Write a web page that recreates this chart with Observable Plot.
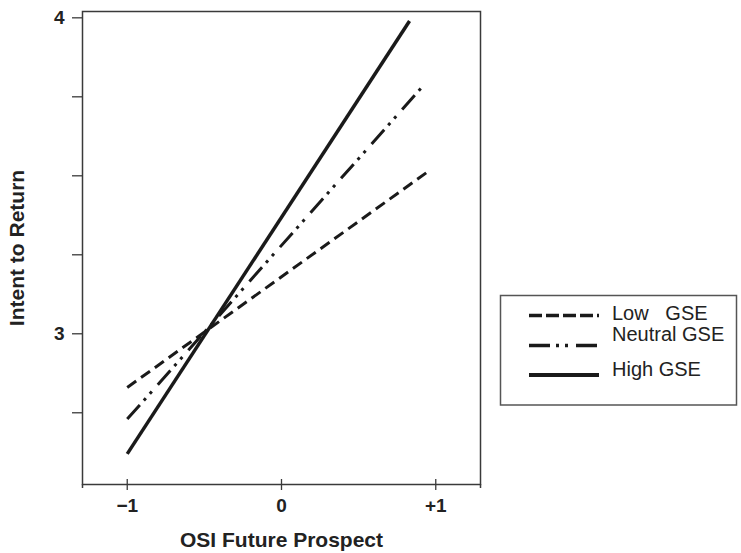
<!DOCTYPE html>
<html><head><meta charset="utf-8">
<script src="https://cdn.jsdelivr.net/npm/d3@7"></script>
<script src="https://cdn.jsdelivr.net/npm/@observablehq/plot@0.6"></script>
<style>
body{margin:0;background:#fff;}
#chart{position:relative;width:741px;height:553px;}
#legend{position:absolute;left:0;top:0;pointer-events:none;}
</style></head><body>
<div id="chart"></div>
<script>
// Series (three simple slopes)
const groups = ["Low   GSE", "Neutral GSE", "High GSE"];
const xStart = [-1, -1, -1];
const xEnd = [0.94, 0.91, 0.83];
const yStart = [2.83, 2.73, 2.62];
const yEnd = [3.51, 3.78, 3.99];
// Axes
const xTicks = [-1, 0, 1];
const xTickLabels = ["\u22121", "0", "+1"];
const yTicks = [2.75, 3, 3.25, 3.5, 3.75, 4];
const yTickLabels = ["", "3", "", "", "", "4"];
const xTitle = "OSI Future Prospect";
const yTitle = "Intent to Return";
const xDomain = [-1.29, 1.29];
const yDomain = [2.523, 4.02];

const dashes = ["11,6", "19,6,3,6,3,9", null];
const widths = [3, 3, 3.5];
const ink = "#1a1a1a";
const axisInk = "#3a3a3a";

const rows = groups.flatMap((g, i) => [
  {g, x: xStart[i], y: yStart[i]},
  {g, x: xEnd[i], y: yEnd[i]}
]);

const lineMarks = groups.map((g, i) =>
  Plot.line(rows.filter(r => r.g === g), {
    x: "x", y: "y", stroke: ink, strokeWidth: widths[i],
    strokeDasharray: dashes[i] || undefined, strokeLinecap: "butt"
  })
);

const plot = Plot.plot({
  width: 741, height: 553,
  marginLeft: 82, marginRight: 261, marginTop: 11, marginBottom: 69,
  style: {fontFamily: "'Liberation Sans', Arial, sans-serif", color: "#222", background: "#fff"},
  x: {domain: xDomain, axis: null},
  y: {domain: yDomain, axis: null},
  marks: [
    Plot.frame({stroke: axisInk, strokeWidth: 1.5}),
    Plot.axisX(xTicks, {tickSize: 6, tickPadding: 8, stroke: axisInk, strokeWidth: 1.3,
      tickFormat: d => xTickLabels[xTicks.indexOf(d)], fontSize: 19, fontWeight: "bold", label: null}),
    Plot.axisX(xTicks, {tickSize: 5, dy: -5, stroke: axisInk, strokeWidth: 1.3, text: null, label: null}),
    Plot.axisX(xDomain, {tickSize: 4, stroke: axisInk, strokeWidth: 1.5, text: null, label: null}),
    Plot.axisY(yTicks, {tickSize: 10, tickPadding: 8, stroke: axisInk, strokeWidth: 1.3,
      tickFormat: d => yTickLabels[yTicks.indexOf(d)], fontSize: 19, fontWeight: "bold", label: null}),
    Plot.text([xTitle], {frameAnchor: "bottom", dy: 62, fontSize: 21, fontWeight: "bold", fill: "#222"}),
    Plot.text([yTitle], {frameAnchor: "left", textAnchor: "middle", dx: -65, rotate: -90, fontSize: 21, fontWeight: "bold", fill: "#222"}),
    ...lineMarks
  ]
});
document.getElementById("chart").appendChild(plot);

// Legend box
const svg = d3.select("#chart").append("svg").attr("id", "legend")
  .attr("width", 741).attr("height", 553);
svg.append("rect").attr("x", 500.5).attr("y", 295.5).attr("width", 236).attr("height", 109.5)
  .attr("fill", "none").attr("stroke", "#555").attr("stroke-width", 1.5);
const legendDash = ["13,4", "21,6,3,6,3,8,21", null];
const lineY = [315.5, 345.5, 375];
const textY = [320, 341, 375.5];
groups.forEach((g, i) => {
  svg.append("line").attr("x1", 529).attr("x2", 599).attr("y1", lineY[i]).attr("y2", lineY[i])
    .attr("stroke", ink).attr("stroke-width", i === 2 ? 4 : 3.5)
    .attr("stroke-dasharray", legendDash[i]);
  svg.append("text").attr("x", 612).attr("y", textY[i]).text(g)
    .attr("font-family", "'Liberation Sans', Arial, sans-serif").attr("font-size", 20)
    .attr("fill", "#222").style("white-space", "pre");
});
</script>
</body></html>
